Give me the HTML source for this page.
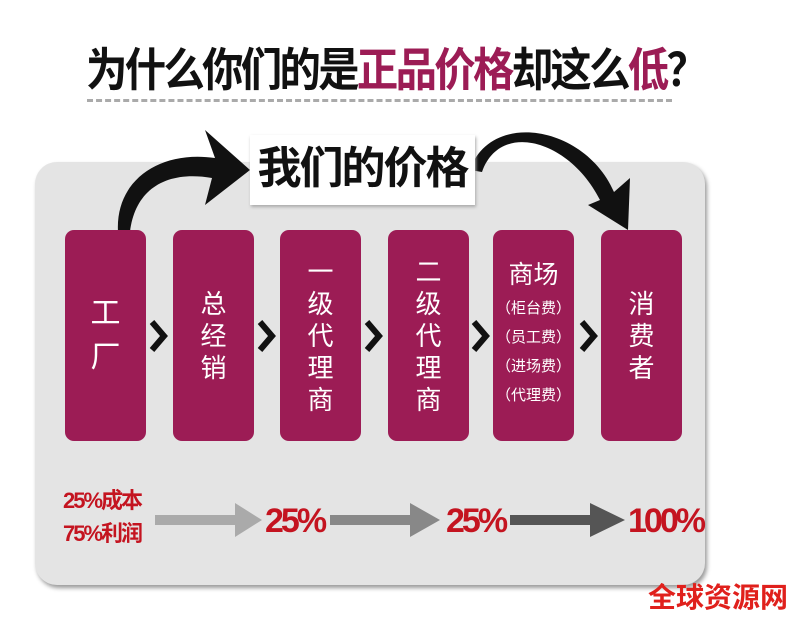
<!DOCTYPE html>
<html><head><meta charset="utf-8"><style>
body{margin:0;width:800px;height:619px;background:#fff;position:relative;overflow:hidden;font-family:"Liberation Sans","Noto Sans CJK SC",sans-serif}
.abs{position:absolute}
.box{position:absolute;top:230px;width:81px;height:211px;background:#9c1c55;border-radius:9px;color:#fff;display:flex;flex-direction:column;align-items:center;justify-content:center;font-size:26px;line-height:32px;text-align:center}
.red{color:#c41420;font-weight:bold;letter-spacing:-3px}
</style></head><body>
<div class="abs" style="left:35px;top:162px;width:670px;height:423px;background:#e4e4e4;border-radius:22px;box-shadow:2px 3px 4px #999"></div>
<div class="abs" style="left:86px;top:34px;font-size:46px;font-weight:bold;letter-spacing:-3px;white-space:nowrap;color:#111;transform:scaleX(0.9);transform-origin:left top">为什么你们的是<span style="color:#9c1c55">正品价格</span>却这么<span style="color:#9c1c55">低</span>？</div>
<div class="abs" style="left:87px;top:99px;width:585px;border-top:3px dashed #aaa"></div>
<svg class="abs" style="left:0;top:0" width="800" height="619">
<path d="M118 232 C115 180 160 150 215 158 L205 130 L250 170 L205 205 L212 178 C165 170 135 190 130 232 Z" fill="#111"/>
<path d="M482 172 C500 120 570 140 600 200 L588 205 L628 230 L630 178 L614 192 C585 125 490 110 470 170 Z" fill="#111"/>
<polygon points="155,515 235,515 235,503 262,520 235,537 235,525 155,525" fill="#aaa"/>
<polygon points="330,515 410,515 410,503 440,520 410,537 410,525 330,525" fill="#888"/>
<polygon points="510,515 590,515 590,503 625,520 590,537 590,525 510,525" fill="#555"/>
<g fill="none" stroke="#111" stroke-width="6" stroke-linejoin="miter">
<polyline points="152,322 164,336 152,350"/>
<polyline points="260,322 272,336 260,350"/>
<polyline points="367,322 379,336 367,350"/>
<polyline points="474,322 486,336 474,350"/>
<polyline points="582,322 594,336 582,350"/>
</g>
</svg>
<div class="abs" style="left:250px;top:135px;width:225px;height:70px;background:#fff;box-shadow:1px 2px 3px #aaa;font-size:44px;font-weight:bold;text-align:center;line-height:68px;color:#111;letter-spacing:-2px">我们的价格</div>
<div class="box" style="left:65px;font-size:30px;line-height:44px">工<br>厂</div>
<div class="box" style="left:173px">总<br>经<br>销</div>
<div class="box" style="left:280px">一<br>级<br>代<br>理<br>商</div>
<div class="box" style="left:388px">二<br>级<br>代<br>理<br>商</div>
<div class="box" style="left:493px;font-size:15px;line-height:29px;justify-content:flex-start"><div style="font-size:25px;margin-top:26px;line-height:38px">商场</div>（柜台费）<br>（员工费）<br>（进场费）<br>（代理费）</div>
<div class="box" style="left:601px">消<br>费<br>者</div>
<div class="abs red" style="left:63px;top:484px;font-size:22px;line-height:33px;letter-spacing:-2px">25%成本<br>75%利润</div>
<div class="abs red" style="left:265px;top:502px;font-size:34px">25%</div>
<div class="abs red" style="left:446px;top:502px;font-size:34px">25%</div>
<div class="abs red" style="left:628px;top:502px;font-size:34px">100%</div>
<div class="abs" style="left:648px;top:576px;font-size:28px;font-weight:bold;color:#e0201c;white-space:nowrap;letter-spacing:0">全球资源网</div>
</body></html>
